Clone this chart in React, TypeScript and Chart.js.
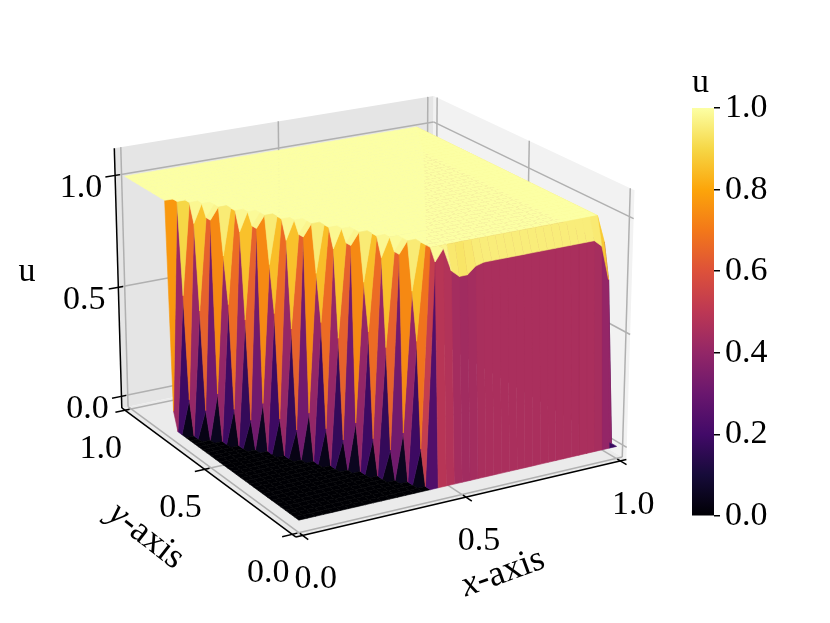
import { useEffect, useRef } from "react"
import { Chart, registerables } from "chart.js"

Chart.register(...registerables)

const FONT = '"Liberation Serif"'

// per column of the 41 x 41 grid
const shockRow = [30, 28, 26, 25, 23, 21, 20, 18, 16, 15, 13, 11, 10, 8, 6, 5, 3, 1, 1, 1, 1, 1, 1, 1, 1, 1, 1, 1, 1, 1, 1, 1, 1, 1, 1, 1, 1, 1, 1, 1, 1]
const lowValue = [0.08, 0.15, 0.12, 0.2, 0.15, 0.12, 0.2, 0.15, 0.12, 0.2, 0.15, 0.12, 0.2, 0.15, 0.12, 0.2, 0.15, 0, 0, 0, 0, 0, 0, 0, 0, 0, 0, 0, 0, 0, 0, 0, 0, 0, 0, 0, 0, 0, 0, 0, 0]
const highValue = [1, 0.6, 0.55, 0.95, 0.6, 0.55, 0.95, 0.6, 0.55, 0.95, 0.6, 0.55, 0.95, 0.6, 0.55, 0.95, 0.6, 0.95, 1, 0.9, 0.87, 0.87, 0.9, 0.91, 0.91, 0.91, 0.91, 0.91, 0.91, 0.91, 0.91, 0.91, 0.91, 0.91, 0.91, 0.91, 0.91, 0.91, 0.88, 0.73, 0]
const shoulderValue = [1, 1, 0.92, 0.95, 0.8, 0.92, 0.95, 0.8, 0.92, 0.95, 0.8, 0.92, 0.95, 0.8, 0.92, 0.95, 0.8, 1, 1, 1, 1, 1, 1, 1, 1, 1, 1, 1, 1, 1, 1, 1, 1, 1, 1, 1, 1, 1, 1, 0.88, 0]
const plateauValue = [1, 1, 1, 1, 1, 1, 1, 1, 1, 1, 1, 1, 1, 1, 1, 1, 1, 1, 1, 1, 1, 1, 1, 1, 1, 1, 1, 1, 1, 1, 1, 1, 1, 1, 1, 1, 1, 1, 1, 0.88, 0]

const xTicks = [0, 0.5, 1]
const yTicks = [0, 0.5, 1]
const zTicks = [0, 0.5, 1]
const colorbarTicks = [0, 0.2, 0.4, 0.6, 0.8, 1]

const inferno = ["#000004", "#160b39", "#420a68", "#6a176e", "#932667", "#bc3754", "#dd513a", "#f37819", "#fca50a", "#f6d746", "#fcffa4"]

const GRID_SIZE = 41
const xLim = [-0.02, 1.02]
const yLim = [-0.02, 1.02]
const zLim = [-0.054, 1.12]

// matplotlib style view: elev 20, azim -120, box aspect 4:4:3, focal length 1, distance 10
const box = [1.19, 1.19, 0.893]
const eyeDir = [-0.4698, -0.8138, 0.342]
const right = [0.866, -0.5, 0]
const up = [0.171, 0.2962, 0.9397]
const SCALE = 315
const CENTER_X = 369
const CENTER_Y = 303
const WIDTH = 830
const HEIGHT = 623

function project(x: number, y: number, z: number) {
  const p = [
    ((x - xLim[0]) / (xLim[1] - xLim[0]) - 0.5) * box[0],
    ((y - yLim[0]) / (yLim[1] - yLim[0]) - 0.5) * box[1],
    ((z - zLim[0]) / (zLim[1] - zLim[0]) - 0.5) * box[2],
  ]
  const dot = (a: number[]) => a[0] * p[0] + a[1] * p[1] + a[2] * p[2]
  const depth = 10 - dot(eyeDir)
  return { x: (dot(right) * 10) / depth, y: (dot(up) * 10) / depth, depth }
}

function hexToRgb(hex: string) {
  return [1, 3, 5].map((i) => parseInt(hex.slice(i, i + 2), 16))
}

function colormap(v: number) {
  const t = Math.min(Math.max(v, 0), 1) * (inferno.length - 1)
  const i = Math.min(Math.floor(t), inferno.length - 2)
  const a = hexToRgb(inferno[i])
  const b = hexToRgb(inferno[i + 1])
  const c = a.map((n, k) => Math.round(n + (b[k] - n) * (t - i)))
  return `rgb(${c[0]}, ${c[1]}, ${c[2]})`
}

function surfaceValue(col: number, row: number) {
  const s = shockRow[col]
  if (row < s - 1) return 0
  if (row === s - 1) return lowValue[col]
  if (row === s) return highValue[col]
  if (row === s + 1) return shoulderValue[col]
  return plateauValue[col]
}

function polygon(points: number[][], color: string, edge = 0) {
  return {
    data: [...points, points[0]].map((p) => {
      const q = project(p[0], p[1], p[2])
      return { x: q.x, y: q.y }
    }),
    showLine: true,
    fill: "shape",
    backgroundColor: color,
    borderColor: color,
    borderWidth: edge,
    borderJoinStyle: "bevel",
    pointRadius: 0,
    clip: false,
  }
}

function segment(a: number[], b: number[], color: string, width: number) {
  return {
    data: [a, b].map((p) => {
      const q = project(p[0], p[1], p[2])
      return { x: q.x, y: q.y }
    }),
    showLine: true,
    fill: false,
    borderColor: color,
    borderWidth: width,
    pointRadius: 0,
    clip: false,
  }
}

function buildDatasets() {
  const [x0, x1] = xLim
  const [y0, y1] = yLim
  const [z0, z1] = zLim
  const GRID = "#b0b0b0"
  const list: any[] = []

  // panes
  list.push(polygon([[x0, y1, z0], [x1, y1, z0], [x1, y1, z1], [x0, y1, z1]], "#e5e5e5"))
  list.push(polygon([[x1, y0, z0], [x1, y1, z0], [x1, y1, z1], [x1, y0, z1]], "#f2f2f2"))
  list.push(polygon([[x0, y0, z0], [x1, y0, z0], [x1, y1, z0], [x0, y1, z0]], "#ebebeb"))

  // grid lines
  xTicks.forEach((t) => {
    list.push(segment([t, y0, z0], [t, y1, z0], GRID, 1.5))
    list.push(segment([t, y1, z0], [t, y1, z1], GRID, 1.5))
  })
  yTicks.forEach((t) => {
    list.push(segment([x0, t, z0], [x1, t, z0], GRID, 1.5))
    list.push(segment([x1, t, z0], [x1, t, z1], GRID, 1.5))
  })
  zTicks.forEach((t) => {
    list.push(segment([x0, y1, t], [x1, y1, t], GRID, 1.5))
    list.push(segment([x1, y0, t], [x1, y1, t], GRID, 1.5))
  })

  // axis lines and tick marks
  list.push(segment([x0, y0, z0], [x1, y0, z0], "#000", 1.5))
  list.push(segment([x0, y0, z0], [x0, y1, z0], "#000", 1.5))
  list.push(segment([x0, y1, z0], [x0, y1, z1], "#000", 1.5))
  xTicks.forEach((t) => list.push(segment([t, y0 - 0.03, z0], [t, y0 + 0.015, z0], "#000", 1.5)))
  yTicks.forEach((t) => list.push(segment([x0 - 0.03, t, z0], [x0 + 0.015, t, z0], "#000", 1.5)))
  zTicks.forEach((t) => list.push(segment([x0 - 0.03, y1, t], [x0 + 0.015, y1, t], "#000", 1.5)))

  // surface cells, far ones first
  const cells: { depth: number; set: any }[] = []
  for (let i = 0; i < GRID_SIZE - 1; i++) {
    for (let j = 0; j < GRID_SIZE - 1; j++) {
      const corners = [[i, j], [i + 1, j], [i + 1, j + 1], [i, j + 1]].map(([c, r]) => [
        c / (GRID_SIZE - 1),
        r / (GRID_SIZE - 1),
        surfaceValue(c, r),
      ])
      const mean = corners.reduce((sum, p) => sum + p[2], 0) / 4
      const depth = corners.reduce((sum, p) => sum + project(p[0], p[1], p[2]).depth, 0) / 4
      cells.push({ depth, set: polygon(corners, colormap(mean), 0.6) })
    }
  }
  cells.sort((a, b) => b.depth - a.depth)
  cells.forEach((c) => list.push(c.set))

  // chart.js paints the first dataset last
  return list.reverse()
}

const textLabels = {
  id: "textLabels",
  afterDatasetsDraw(chart: any) {
    const { ctx, scales } = chart
    const at = (x: number, y: number, z: number) => {
      const q = project(x, y, z)
      return [scales.x.getPixelForValue(q.x), scales.y.getPixelForValue(q.y)]
    }
    ctx.save()
    ctx.fillStyle = "#000"
    ctx.textAlign = "center"
    ctx.textBaseline = "middle"
    ctx.font = `34px ${FONT}`
    xTicks.forEach((t) => {
      const [px, py] = at(t, yLim[0], zLim[0])
      ctx.fillText(t.toFixed(1), px + 13, py + 44)
    })
    yTicks.forEach((t) => {
      const [px, py] = at(xLim[0], t, zLim[0])
      ctx.fillText(t.toFixed(1), px - 24, py + 39)
    })
    zTicks.forEach((t) => {
      const [px, py] = at(xLim[0], yLim[1], t)
      ctx.fillText(t.toFixed(1), px - 34, py + 13)
    })
    ctx.fillText("u", 27, 272)

    const rotated = (first: string, rest: string, cx: number, cy: number, angle: number) => {
      ctx.save()
      ctx.translate(cx, cy)
      ctx.rotate(angle)
      ctx.textAlign = "left"
      ctx.font = `italic 36px ${FONT}`
      const w1 = ctx.measureText(first).width
      ctx.font = `36px ${FONT}`
      const w2 = ctx.measureText(rest).width
      ctx.font = `italic 36px ${FONT}`
      ctx.fillText(first, -(w1 + w2) / 2, 0)
      ctx.font = `36px ${FONT}`
      ctx.fillText(rest, -(w1 + w2) / 2 + w1, 0)
      ctx.restore()
    }
    rotated("x", "-axis", 503, 573, (-20 * Math.PI) / 180)
    rotated("y", "-axis", 146, 536, (38 * Math.PI) / 180)
    ctx.restore()
  },
}

function barGradient(context: any) {
  const { chart } = context
  if (!chart.chartArea) return "#000"
  const { top, bottom } = chart.chartArea
  const gradient = chart.ctx.createLinearGradient(0, bottom, 0, top)
  inferno.forEach((c, i) => gradient.addColorStop(i / (inferno.length - 1), c))
  return gradient
}

export default function App() {
  const surfaceRef = useRef<HTMLCanvasElement>(null)
  const barRef = useRef<HTMLCanvasElement>(null)

  useEffect(() => {
    if (!surfaceRef.current || !barRef.current) return

    const surface = new Chart(surfaceRef.current, {
      type: "scatter",
      data: { datasets: buildDatasets() },
      options: {
        animation: false,
        responsive: false,
        events: [],
        layout: { padding: 0, autoPadding: false },
        plugins: { legend: { display: false }, tooltip: { enabled: false } },
        scales: {
          x: { type: "linear", display: false, min: -CENTER_X / SCALE, max: (WIDTH - CENTER_X) / SCALE },
          y: { type: "linear", display: false, min: -(HEIGHT - CENTER_Y) / SCALE, max: CENTER_Y / SCALE },
        },
      } as any,
      plugins: [textLabels],
    })

    const colorbar = new Chart(barRef.current, {
      type: "bar",
      data: {
        labels: ["u"],
        datasets: [{ data: [[0, 1]], backgroundColor: barGradient, barPercentage: 1, categoryPercentage: 1 }],
      },
      options: {
        animation: false,
        responsive: false,
        events: [],
        layout: { padding: { bottom: 34 } },
        plugins: {
          legend: { display: false },
          tooltip: { enabled: false },
          title: {
            display: true,
            text: "u",
            align: "start",
            color: "#000",
            font: { family: FONT, size: 34, weight: "normal" },
            padding: { top: 3, bottom: 4.2 },
          },
        },
        scales: {
          x: { display: false },
          y: {
            position: "right",
            min: 0,
            max: 1,
            afterBuildTicks: (axis: any) => {
              axis.ticks = colorbarTicks.map((value) => ({ value }))
            },
            afterFit: (axis: any) => {
              axis.width = 98
            },
            border: { display: false },
            grid: { drawOnChartArea: false, color: "#000", lineWidth: 1.5, tickLength: 6 },
            ticks: {
              color: "#000",
              padding: 5,
              font: { family: FONT, size: 34 },
              callback: (value: any) => Number(value).toFixed(1),
            },
          },
        },
      } as any,
    })

    return () => {
      surface.destroy()
      colorbar.destroy()
    }
  }, [])

  return (
    <div style={{ position: "absolute", left: 0, top: 0, width: WIDTH, height: HEIGHT, background: "#fff" }}>
      <canvas ref={surfaceRef} width={WIDTH} height={HEIGHT} style={{ position: "absolute", left: 0, top: 0 }} />
      <canvas ref={barRef} width={120} height={490} style={{ position: "absolute", left: 692, top: 60 }} />
    </div>
  )
}
